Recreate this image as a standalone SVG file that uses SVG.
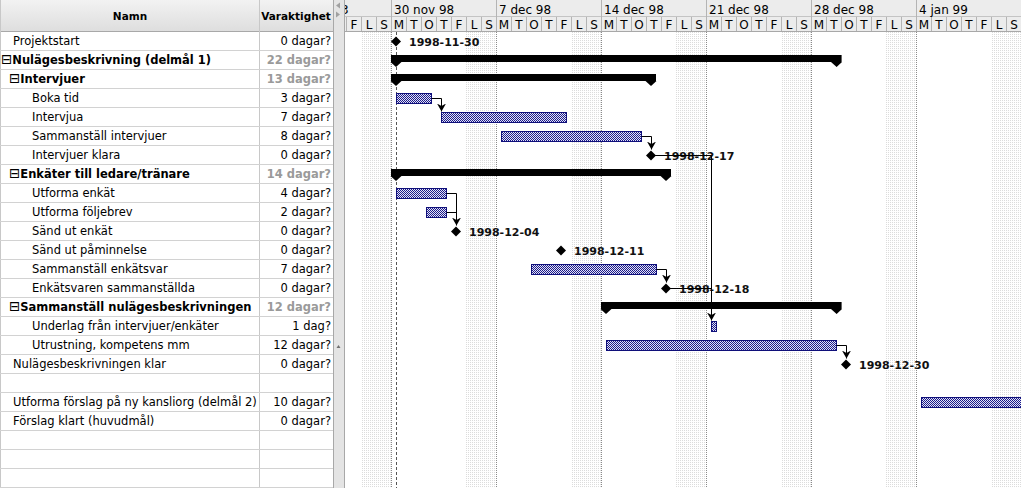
<svg xmlns="http://www.w3.org/2000/svg" width="1021" height="488" viewBox="0 0 1021 488">
<style>
text{font-family:"DejaVu Sans","Liberation Sans",sans-serif;}
.t{font-size:11.5px;fill:#000;}
.tb{font-size:11.5px;font-weight:bold;fill:#000;}
.bx{font-size:13.5px;font-weight:normal;}
.d{font-size:11.5px;fill:#000;text-anchor:end;}
.db{font-size:11.5px;font-weight:bold;fill:#9a9a9a;text-anchor:end;}
.hd{font-size:10.5px;font-weight:bold;fill:#000;text-anchor:middle;}
.wk{font-size:12px;fill:#000;}
.dy{font-size:12px;fill:#000;text-anchor:middle;}
.ml{font-size:11px;font-weight:bold;fill:#111;}
.bar{fill:url(#chk);stroke:#10107a;stroke-width:1;}
.sum{fill:#000;}
.ms{fill:#000;}
.grid{stroke:#d2d2d2;stroke-width:1;}
.con{fill:none;stroke:#000;stroke-width:1;}
.mon{stroke:#8a8a8a;stroke-width:1;stroke-dasharray:1 1;}
.hc{stroke:#b4b4b4;stroke-width:1;}
</style>
<defs>
<linearGradient id="hg" x1="0" y1="0" x2="0" y2="1">
<stop offset="0" stop-color="#f2f2f2"/>
<stop offset="1" stop-color="#dedede"/>
</linearGradient>
<pattern id="chk" width="2" height="2" patternUnits="userSpaceOnUse">
<rect width="2" height="2" fill="#e4e4f4"/>
<rect width="1" height="1" fill="#1a1a8c"/>
<rect x="1" y="1" width="1" height="1" fill="#1a1a8c"/>
</pattern>
<pattern id="we" width="2" height="2" patternUnits="userSpaceOnUse">
<rect width="2" height="2" fill="#ffffff"/>
<rect width="1" height="1" fill="#dcdcdc"/>
</pattern>
<marker id="arr" markerUnits="userSpaceOnUse" markerWidth="10" markerHeight="10" refX="8" refY="4.5" orient="auto">
<path d="M0,0 L8,4.5 L0,9 L2.5,4.5 Z" fill="#000"/>
</marker>
<clipPath id="chartclip"><rect x="345" y="0" width="676" height="488"/></clipPath>
</defs>

<rect x="0" y="0" width="1021" height="488" fill="#ffffff"/>

<g id="table-grid">
<rect x="0" y="0" width="333" height="31" fill="url(#hg)"/>
<line x1="0" y1="31.5" x2="333" y2="31.5" stroke="#a8a8a8"/>
<line x1="259.5" y1="0" x2="259.5" y2="488" stroke="#c8c8c8"/>
<line x1="0.5" y1="0" x2="0.5" y2="488" stroke="#c8c8c8"/>
<line x1="333.5" y1="0" x2="333.5" y2="488" stroke="#a8a8a8"/>
<g class="grid">
<line x1="0" y1="50.5" x2="333" y2="50.5"/>
<line x1="0" y1="69.5" x2="333" y2="69.5"/>
<line x1="0" y1="88.5" x2="333" y2="88.5"/>
<line x1="0" y1="107.5" x2="333" y2="107.5"/>
<line x1="0" y1="126.5" x2="333" y2="126.5"/>
<line x1="0" y1="145.5" x2="333" y2="145.5"/>
<line x1="0" y1="164.5" x2="333" y2="164.5"/>
<line x1="0" y1="183.5" x2="333" y2="183.5"/>
<line x1="0" y1="202.5" x2="333" y2="202.5"/>
<line x1="0" y1="221.5" x2="333" y2="221.5"/>
<line x1="0" y1="240.5" x2="333" y2="240.5"/>
<line x1="0" y1="259.5" x2="333" y2="259.5"/>
<line x1="0" y1="278.5" x2="333" y2="278.5"/>
<line x1="0" y1="297.5" x2="333" y2="297.5"/>
<line x1="0" y1="316.5" x2="333" y2="316.5"/>
<line x1="0" y1="335.5" x2="333" y2="335.5"/>
<line x1="0" y1="354.5" x2="333" y2="354.5"/>
<line x1="0" y1="373.5" x2="333" y2="373.5"/>
<line x1="0" y1="392.5" x2="333" y2="392.5"/>
<line x1="0" y1="411.5" x2="333" y2="411.5"/>
<line x1="0" y1="430.5" x2="333" y2="430.5"/>
<line x1="0" y1="449.5" x2="333" y2="449.5"/>
<line x1="0" y1="468.5" x2="333" y2="468.5"/>
<line x1="0" y1="487.5" x2="333" y2="487.5"/>
</g>
<text class="hd" x="130" y="20">Namn</text>
<text class="hd" x="296" y="20">Varaktighet</text>
</g>

<g id="splitter">
<rect x="334" y="0" width="11" height="488" fill="#e4e4e4"/>
<line x1="344.5" y1="0" x2="344.5" y2="488" stroke="#a8a8a8"/>
<polygon points="340,2.5 336,5.5 340,8.5" fill="#a0a0a0"/>
<polygon points="336,11.5 340,14.5 336,17.5" fill="#a0a0a0"/>
<polygon points="336.5,348 338.5,345 340.5,348" fill="#707070"/>
</g>

<g id="chart-bg">
<rect x="361" y="32" width="30" height="456" fill="url(#we)"/>
<rect x="466" y="32" width="30" height="456" fill="url(#we)"/>
<rect x="571" y="32" width="30" height="456" fill="url(#we)"/>
<rect x="676" y="32" width="30" height="456" fill="url(#we)"/>
<rect x="781" y="32" width="30" height="456" fill="url(#we)"/>
<rect x="886" y="32" width="30" height="456" fill="url(#we)"/>
<rect x="991" y="32" width="30" height="456" fill="url(#we)"/>
<line class="mon" x1="391.5" y1="32" x2="391.5" y2="488"/>
<line class="mon" x1="496.5" y1="32" x2="496.5" y2="488"/>
<line class="mon" x1="601.5" y1="32" x2="601.5" y2="488"/>
<line class="mon" x1="706.5" y1="32" x2="706.5" y2="488"/>
<line class="mon" x1="811.5" y1="32" x2="811.5" y2="488"/>
<line class="mon" x1="916.5" y1="32" x2="916.5" y2="488"/>
<line x1="396.5" y1="32" x2="396.5" y2="488" stroke="#555" stroke-width="1" stroke-dasharray="3 2"/>
</g>

<g id="chart-header">
<rect x="345" y="0" width="676" height="31" fill="#ececec"/>
<line x1="345" y1="16.5" x2="1021" y2="16.5" stroke="#c4c4c4"/>
<line x1="345" y1="31.5" x2="1021" y2="31.5" stroke="#a8a8a8"/>
<g class="hc">
<line x1="391.5" y1="0" x2="391.5" y2="31"/>
<line x1="496.5" y1="0" x2="496.5" y2="31"/>
<line x1="601.5" y1="0" x2="601.5" y2="31"/>
<line x1="706.5" y1="0" x2="706.5" y2="31"/>
<line x1="811.5" y1="0" x2="811.5" y2="31"/>
<line x1="916.5" y1="0" x2="916.5" y2="31"/>
<line x1="346.5" y1="17" x2="346.5" y2="31"/>
<line x1="361.5" y1="17" x2="361.5" y2="31"/>
<line x1="376.5" y1="17" x2="376.5" y2="31"/>
<line x1="406.5" y1="17" x2="406.5" y2="31"/>
<line x1="421.5" y1="17" x2="421.5" y2="31"/>
<line x1="436.5" y1="17" x2="436.5" y2="31"/>
<line x1="451.5" y1="17" x2="451.5" y2="31"/>
<line x1="466.5" y1="17" x2="466.5" y2="31"/>
<line x1="481.5" y1="17" x2="481.5" y2="31"/>
<line x1="511.5" y1="17" x2="511.5" y2="31"/>
<line x1="526.5" y1="17" x2="526.5" y2="31"/>
<line x1="541.5" y1="17" x2="541.5" y2="31"/>
<line x1="556.5" y1="17" x2="556.5" y2="31"/>
<line x1="571.5" y1="17" x2="571.5" y2="31"/>
<line x1="586.5" y1="17" x2="586.5" y2="31"/>
<line x1="616.5" y1="17" x2="616.5" y2="31"/>
<line x1="631.5" y1="17" x2="631.5" y2="31"/>
<line x1="646.5" y1="17" x2="646.5" y2="31"/>
<line x1="661.5" y1="17" x2="661.5" y2="31"/>
<line x1="676.5" y1="17" x2="676.5" y2="31"/>
<line x1="691.5" y1="17" x2="691.5" y2="31"/>
<line x1="721.5" y1="17" x2="721.5" y2="31"/>
<line x1="736.5" y1="17" x2="736.5" y2="31"/>
<line x1="751.5" y1="17" x2="751.5" y2="31"/>
<line x1="766.5" y1="17" x2="766.5" y2="31"/>
<line x1="781.5" y1="17" x2="781.5" y2="31"/>
<line x1="796.5" y1="17" x2="796.5" y2="31"/>
<line x1="826.5" y1="17" x2="826.5" y2="31"/>
<line x1="841.5" y1="17" x2="841.5" y2="31"/>
<line x1="856.5" y1="17" x2="856.5" y2="31"/>
<line x1="871.5" y1="17" x2="871.5" y2="31"/>
<line x1="886.5" y1="17" x2="886.5" y2="31"/>
<line x1="901.5" y1="17" x2="901.5" y2="31"/>
<line x1="931.5" y1="17" x2="931.5" y2="31"/>
<line x1="946.5" y1="17" x2="946.5" y2="31"/>
<line x1="961.5" y1="17" x2="961.5" y2="31"/>
<line x1="976.5" y1="17" x2="976.5" y2="31"/>
<line x1="991.5" y1="17" x2="991.5" y2="31"/>
<line x1="1006.5" y1="17" x2="1006.5" y2="31"/>
</g>
<g clip-path="url(#chartclip)"><text class="wk" x="341" y="14">3</text></g>
<text class="wk" x="394" y="14">30 nov 98</text>
<text class="wk" x="499" y="14">7 dec 98</text>
<text class="wk" x="604" y="14">14 dec 98</text>
<text class="wk" x="709" y="14">21 dec 98</text>
<text class="wk" x="814" y="14">28 dec 98</text>
<text class="wk" x="919" y="14">4 jan 99</text>
<text class="dy" x="354" y="28.5">F</text><text class="dy" x="369" y="28.5">L</text><text class="dy" x="384" y="28.5">S</text>
<text class="dy" x="399" y="28.5">M</text><text class="dy" x="414" y="28.5">T</text><text class="dy" x="429" y="28.5">O</text><text class="dy" x="444" y="28.5">T</text><text class="dy" x="459" y="28.5">F</text><text class="dy" x="474" y="28.5">L</text><text class="dy" x="489" y="28.5">S</text>
<text class="dy" x="504" y="28.5">M</text><text class="dy" x="519" y="28.5">T</text><text class="dy" x="534" y="28.5">O</text><text class="dy" x="549" y="28.5">T</text><text class="dy" x="564" y="28.5">F</text><text class="dy" x="579" y="28.5">L</text><text class="dy" x="594" y="28.5">S</text>
<text class="dy" x="609" y="28.5">M</text><text class="dy" x="624" y="28.5">T</text><text class="dy" x="639" y="28.5">O</text><text class="dy" x="654" y="28.5">T</text><text class="dy" x="669" y="28.5">F</text><text class="dy" x="684" y="28.5">L</text><text class="dy" x="699" y="28.5">S</text>
<text class="dy" x="714" y="28.5">M</text><text class="dy" x="729" y="28.5">T</text><text class="dy" x="744" y="28.5">O</text><text class="dy" x="759" y="28.5">T</text><text class="dy" x="774" y="28.5">F</text><text class="dy" x="789" y="28.5">L</text><text class="dy" x="804" y="28.5">S</text>
<text class="dy" x="819" y="28.5">M</text><text class="dy" x="834" y="28.5">T</text><text class="dy" x="849" y="28.5">O</text><text class="dy" x="864" y="28.5">T</text><text class="dy" x="879" y="28.5">F</text><text class="dy" x="894" y="28.5">L</text><text class="dy" x="909" y="28.5">S</text>
<text class="dy" x="924" y="28.5">M</text><text class="dy" x="939" y="28.5">T</text><text class="dy" x="954" y="28.5">O</text><text class="dy" x="969" y="28.5">T</text><text class="dy" x="984" y="28.5">F</text><text class="dy" x="999" y="28.5">L</text><text class="dy" x="1014" y="28.5">S</text>
</g>

<g id="n0-projektstart">
<text class="t" x="13" y="45">Projektstart</text><text class="d" x="331" y="45">0 dagar?</text>
<polygon class="ms" points="396,36.5 401,41.5 396,46.5 391,41.5"/>
<text class="ml" x="409" y="46">1998-11-30</text>
</g>
<g id="n1-nulagesbeskrivning">
<text class="tb" x="1" y="64"><tspan class="bx">⊟</tspan>Nulägesbeskrivning (delmål 1)</text><text class="db" x="331" y="64">22 dagar?</text>
<rect class="sum" x="391" y="55" width="450.6" height="7"/>
<polygon class="sum" points="390.5,62 401.5,62 396,67"/>
<polygon class="sum" points="831,62 842,62 836.6,67"/>
</g>
<g id="n2-intervjuer">
<text class="tb" x="9" y="83"><tspan class="bx">⊟</tspan>Intervjuer</text><text class="db" x="331" y="83">13 dagar?</text>
<rect class="sum" x="391" y="74" width="265" height="7"/>
<polygon class="sum" points="390.5,81 401.5,81 396,86"/>
<polygon class="sum" points="645.5,81 656.5,81 651,86"/>
</g>
<g id="n3-boka-tid">
<text class="t" x="32" y="102">Boka tid</text><text class="d" x="331" y="102">3 dagar?</text>
<rect class="bar" x="396.5" y="93.5" width="35" height="10"/>
</g>
<g id="n4-intervjua">
<text class="t" x="32" y="121">Intervjua</text><text class="d" x="331" y="121">7 dagar?</text>
<rect class="bar" x="441.5" y="112.5" width="125" height="10"/>
</g>
<g id="n5-sammanstall-intervjuer">
<text class="t" x="32" y="140">Sammanställ intervjuer</text><text class="d" x="331" y="140">8 dagar?</text>
<rect class="bar" x="501.5" y="131.5" width="140" height="10"/>
</g>
<g id="n6-intervjuer-klara">
<text class="t" x="32" y="159">Intervjuer klara</text><text class="d" x="331" y="159">0 dagar?</text>
<polygon class="ms" points="651,150.5 656,155.5 651,160.5 646,155.5"/>
<text class="ml" x="664" y="160">1998-12-17</text>
</g>
<g id="n7-enkater">
<text class="tb" x="9" y="178"><tspan class="bx">⊟</tspan>Enkäter till ledare/tränare</text><text class="db" x="331" y="178">14 dagar?</text>
<rect class="sum" x="391" y="169" width="280" height="7"/>
<polygon class="sum" points="390.5,176 401.5,176 396,181"/>
<polygon class="sum" points="660.5,176 671.5,176 666,181"/>
</g>
<g id="n8-utforma-enkat">
<text class="t" x="32" y="197">Utforma enkät</text><text class="d" x="331" y="197">4 dagar?</text>
<rect class="bar" x="396.5" y="188.5" width="50" height="10"/>
</g>
<g id="n9-utforma-foljebrev">
<text class="t" x="32" y="216">Utforma följebrev</text><text class="d" x="331" y="216">2 dagar?</text>
<rect class="bar" x="426.5" y="207.5" width="20" height="10"/>
</g>
<g id="n10-sand-ut-enkat">
<text class="t" x="32" y="235">Sänd ut enkät</text><text class="d" x="331" y="235">0 dagar?</text>
<polygon class="ms" points="456,226.5 461,231.5 456,236.5 451,231.5"/>
<text class="ml" x="469" y="236">1998-12-04</text>
</g>
<g id="n11-sand-ut-paminnelse">
<text class="t" x="32" y="254">Sänd ut påminnelse</text><text class="d" x="331" y="254">0 dagar?</text>
<polygon class="ms" points="561,245.5 566,250.5 561,255.5 556,250.5"/>
<text class="ml" x="574" y="255">1998-12-11</text>
</g>
<g id="n12-sammanstall-enkatsvar">
<text class="t" x="32" y="273">Sammanställ enkätsvar</text><text class="d" x="331" y="273">7 dagar?</text>
<rect class="bar" x="531.5" y="264.5" width="125" height="10"/>
</g>
<g id="n13-enkatsvaren-sammanstallda">
<text class="t" x="32" y="292">Enkätsvaren sammanställda</text><text class="d" x="331" y="292">0 dagar?</text>
<polygon class="ms" points="666,283.5 671,288.5 666,293.5 661,288.5"/>
<text class="ml" x="679" y="293">1998-12-18</text>
</g>
<g id="n14-sammanstall-nulagesbeskrivningen">
<text class="tb" x="9" y="311"><tspan class="bx">⊟</tspan>Sammanställ nulägesbeskrivningen</text><text class="db" x="331" y="311">12 dagar?</text>
<rect class="sum" x="601" y="302" width="240.6" height="7"/>
<polygon class="sum" points="600.5,309 611.5,309 606,314"/>
<polygon class="sum" points="831,309 842,309 836.6,314"/>
</g>
<g id="n15-underlag">
<text class="t" x="32" y="330">Underlag från intervjuer/enkäter</text><text class="d" x="331" y="330">1 dag?</text>
<rect class="bar" x="711.5" y="321.5" width="5" height="10"/>
</g>
<g id="n16-utrustning">
<text class="t" x="32" y="349">Utrustning, kompetens mm</text><text class="d" x="331" y="349">12 dagar?</text>
<rect class="bar" x="606.5" y="340.5" width="230" height="10"/>
</g>
<g id="n17-nulagesbeskrivningen-klar">
<text class="t" x="13" y="368">Nulägesbeskrivningen klar</text><text class="d" x="331" y="368">0 dagar?</text>
<polygon class="ms" points="846,359.5 851,364.5 846,369.5 841,364.5"/>
<text class="ml" x="859" y="369">1998-12-30</text>
</g>
<g id="n19-utforma-forslag">
<text class="t" x="13" y="406">Utforma förslag på ny kansliorg (delmål 2)</text><text class="d" x="331" y="406">10 dagar?</text>
<rect class="bar" x="921.5" y="397.5" width="120" height="10"/>
</g>
<g id="n20-forslag-klart">
<text class="t" x="13" y="425">Förslag klart (huvudmål)</text><text class="d" x="331" y="425">0 dagar?</text>
</g>

<g id="connectors">
<path class="con" d="M431.6,98.5 H441.5 V111.5" marker-end="url(#arr)"/>
<path class="con" d="M641.6,136.5 H651.5 V149.5" marker-end="url(#arr)"/>
<path class="con" d="M446.6,193.5 H456.5 V225.5" marker-end="url(#arr)"/>
<path class="con" d="M446.6,212.5 H456.5"/>
<path class="con" d="M656.6,269.5 H666.5 V282.5" marker-end="url(#arr)"/>
<path class="con" d="M651,155.5 H711.5 V320.5" marker-end="url(#arr)"/>
<path class="con" d="M666,288.5 H711.5"/>
<path class="con" d="M836.6,345.5 H846.5 V358.5" marker-end="url(#arr)"/>
</g>
</svg>
